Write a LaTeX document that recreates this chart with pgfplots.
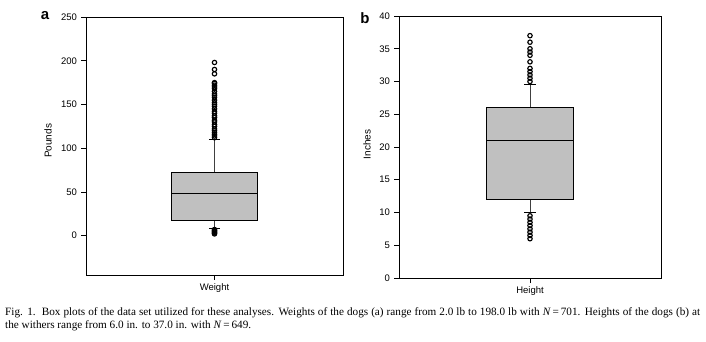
\documentclass[border=0pt]{standalone}
\usepackage{pgfplots}
\pgfplotsset{compat=1.18}
\usepackage{fontspec}
\setmainfont{Liberation Serif}
\newfontfamily\arial{Liberation Sans}
\definecolor{boxgray}{RGB}{192,192,192}
\pgfplotsset{
  panel/.style={
    scale only axis,
    anchor=north west,
    axis line style={black, line width=0.8pt},
    tick style={black, line width=0.8pt},
    tick align=outside,
    major tick length=5pt,
    ytick pos=left,
    xtick pos=bottom,
    xmin=-1.5, xmax=1.5,
    xtick={0},
    tick label style={font=\arial\fontsize{9.5}{10}\selectfont},
    label style={font=\arial\fontsize{10}{11}\selectfont},
    /pgf/number format/assume math mode=true,
    yticklabel style={xshift=-0.5pt},
  },
  boxstyle/.style={fill=boxgray, draw=black, line width=0.8pt},
  linestyle/.style={black, line width=0.8pt, mark=none},
  whisk/.style={black!75, line width=0.8pt, mark=none},
  outl/.style={only marks, mark=o, mark size=2.2pt, mark options={solid, draw=black, line width=1.15pt}},
}
\begin{document}
\begin{tikzpicture}
\useasboundingbox (0,0) rectangle (706pt,-341pt);
% Panel a
\begin{axis}[panel,
  at={(86pt,-17pt)}, width=257pt, height=258pt,
  ymin=-45, ymax=250, ytick={0,50,100,150,200,250},
  xticklabels={Weight},
  ylabel={Pounds},
  ylabel style={at={(axis description cs:-0.148,0.52)}, anchor=center},
]
% whiskers
\addplot[whisk] coordinates {(0,72) (0,110)};
\addplot[whisk] coordinates {(0,17) (0,8)};
\addplot[linestyle] coordinates {(-0.065,110) (0.065,110)};
\addplot[linestyle] coordinates {(-0.065,8) (0.065,8)};
% box
\addplot[boxstyle] coordinates {(-0.5,17) (0.5,17) (0.5,72) (-0.5,72) (-0.5,17)};
\addplot[linestyle] coordinates {(-0.5,48.5) (0.5,48.5)};
% outliers
\addplot[outl] coordinates {(0,112) (0,114) (0,116) (0,118) (0,120) (0,122) (0,125) (0,127)
  (0,130) (0,132) (0,135) (0,137) (0,140) (0,142) (0,145) (0,148) (0,150)
  (0,152) (0,155) (0,158) (0,160) (0,162) (0,165) (0,168) (0,170) (0,172)
  (0,174) (0,175) (0,185) (0,190) (0,198)
  (0,2) (0,3) (0,4) (0,5) (0,6) (0,7)};
\end{axis}
% Panel b
\begin{axis}[panel,
  at={(399pt,-16pt)}, width=262pt, height=262pt,
  ymin=0, ymax=40, ytick={0,5,...,40},
  xticklabels={Height},
  ylabel={Inches},
  ylabel style={at={(axis description cs:-0.122,0.51)}, anchor=center},
]
\addplot[whisk] coordinates {(0,26) (0,29.5)};
\addplot[whisk] coordinates {(0,12) (0,10)};
\addplot[linestyle] coordinates {(-0.065,29.5) (0.065,29.5)};
\addplot[linestyle] coordinates {(-0.065,10) (0.065,10)};
\addplot[boxstyle] coordinates {(-0.5,12) (0.5,12) (0.5,26) (-0.5,26) (-0.5,12)};
\addplot[linestyle] coordinates {(-0.5,21) (0.5,21)};
\addplot[outl] coordinates {(0,30) (0,30.5) (0,31) (0,31.5) (0,32) (0,33) (0,34) (0,34.5)
  (0,35) (0,36) (0,37)
  (0,6) (0,6.5) (0,7) (0,7.5) (0,8) (0,8.5) (0,9) (0,9.5)};
\end{axis}
\node[font=\arial\bfseries\fontsize{15}{15}\selectfont] at (45pt,-16pt) {a};
\node[font=\arial\bfseries\fontsize{15}{15}\selectfont] at (365pt,-18pt) {b};
\node[anchor=west, inner sep=0pt, font=\fontsize{11.2}{12}\selectfont] at (5pt,-313pt)
  {\makebox[695pt][s]{Fig. 1.\ \ Box plots of the data set utilized for these analyses. Weights of the dogs (a) range from 2.0 lb to 198.0 lb with \textit{N}\,=\,701. Heights of the dogs (b) at}};
\node[anchor=west, inner sep=0pt, font=\fontsize{11.2}{12}\selectfont] at (5pt,-326pt)
  {the withers range from 6.0 in. to 37.0 in. with \textit{N}\,=\,649.};
\end{tikzpicture}
\end{document}
